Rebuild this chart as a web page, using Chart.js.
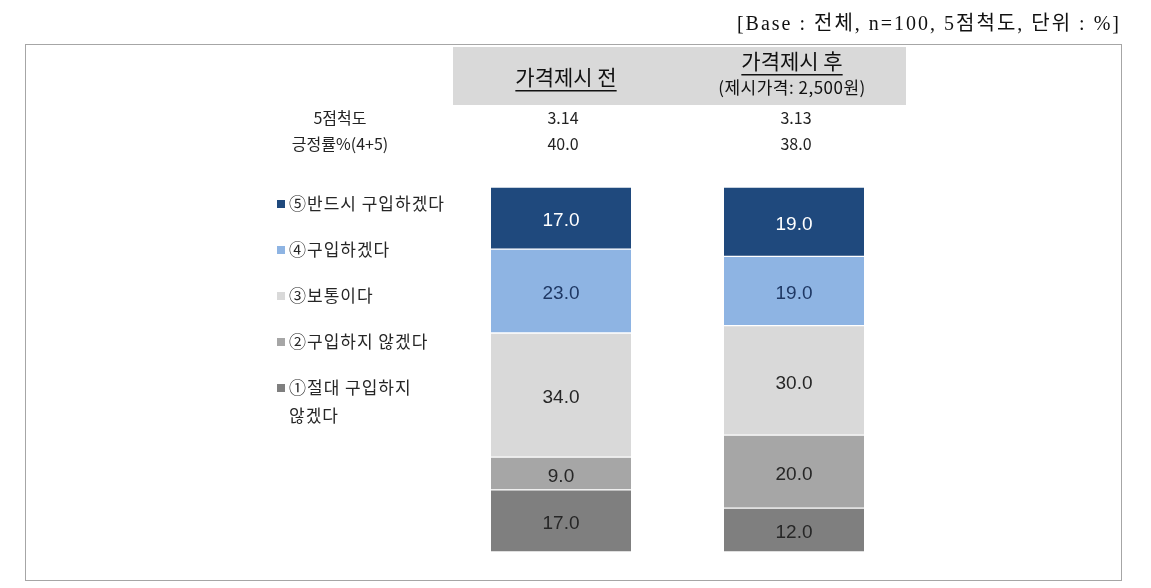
<!DOCTYPE html>
<html>
<head>
<meta charset="utf-8">
<script src="https://cdn.jsdelivr.net/npm/chart.js@4/dist/chart.umd.min.js"></script>
<style>
html,body{margin:0;padding:0;background:#fff;}
#wrap{width:1151px;height:588px;position:relative;}
</style>
</head>
<body>
<div id="wrap"><canvas id="c"></canvas></div>
<script>
const categories = ['가격제시 전', '가격제시 후'];
const categorySub = ['', '(제시가격: 2,500원)'];
const seriesLabels = ['①절대 구입하지 않겠다', '②구입하지 않겠다', '③보통이다', '④구입하겠다', '⑤반드시 구입하겠다'];
const s1 = [17.0, 12.0];
const s2 = [9.0, 20.0];
const s3 = [34.0, 30.0];
const s4 = [23.0, 19.0];
const s5 = [17.0, 19.0];
const scoreLabel = '5점척도';
const scores = ['3.14', '3.13'];
const positiveLabel = '긍정률%(4+5)';
const positive = ['40.0', '38.0'];
const baseNote = '[Base : 전체, n=100, 5점척도, 단위 : %]';

const colors = ['#7F7F7F', '#A6A6A6', '#D9D9D9', '#8EB4E3', '#1F497D'];
const labelColors = ['#262626', '#262626', '#262626', '#1F3864', '#FFFFFF'];
const seriesData = [s1, s2, s3, s4, s5];

const KR = '"Noto Sans CJK KR", "Noto Sans", sans-serif';

const datasets = seriesData.map((d, i) => ({
  label: seriesLabels[i],
  data: d,
  backgroundColor: colors[i],
  borderColor: '#FFFFFF',
  borderWidth: {top: 1, bottom: 1, left: 0, right: 0},
  borderSkipped: false,
  barThickness: 140
}));

const decor = {
  id: 'decor',
  beforeDraw(chart) {
    const ctx = chart.ctx;
    const xs = chart.scales.x;
    ctx.save();
    ctx.fillStyle = '#fff';
    ctx.fillRect(0, 0, chart.width, chart.height);
    // frame
    ctx.strokeStyle = '#A6A6A6';
    ctx.lineWidth = 1;
    ctx.strokeRect(25.5, 44.5, 1096, 536);
    // header box
    ctx.fillStyle = '#D9D9D9';
    ctx.fillRect(453, 47, 453, 58);
    // note
    ctx.fillStyle = '#111';
    ctx.font = '20px "Liberation Serif", "Noto Sans CJK KR", serif';
    ctx.letterSpacing = '2px';
    ctx.textAlign = 'right';
    ctx.textBaseline = 'middle';
    ctx.fillText(baseNote, 1121, 25);
    ctx.letterSpacing = '0px';
    // headers
    ctx.textAlign = 'center';
    categories.forEach((c, i) => {
      const hasSub = categorySub[i] !== '';
      const x = xs.getPixelForValue(i) + (hasSub ? -2 : 5);
      const y = hasSub ? 61 : 77;
      ctx.font = '21px ' + KR;
      ctx.fillStyle = '#111';
      ctx.fillText(c, x, y);
      const w = ctx.measureText(c).width;
      ctx.fillRect(x - w / 2, y + 13, w, 1.5);
      if (hasSub) {
        ctx.font = '17px ' + KR;
        ctx.letterSpacing = '0.5px';
        ctx.fillText(categorySub[i], x, 88);
        ctx.letterSpacing = '0px';
      }
    });
    // table rows
    ctx.font = '16px ' + KR;
    ctx.fillStyle = '#222';
    ctx.fillText(scoreLabel, 340, 118);
    ctx.fillText(positiveLabel, 340, 144);
    scores.forEach((s, i) => ctx.fillText(s, xs.getPixelForValue(i) + 2, 118));
    positive.forEach((s, i) => ctx.fillText(s, xs.getPixelForValue(i) + 2, 144));
    // legend
    const order = [4, 3, 2, 1, 0];
    ctx.textAlign = 'left';
    ctx.font = '17px ' + KR;
    ctx.letterSpacing = '1px';
    order.forEach((di, k) => {
      const y = 204 + k * 46;
      const ds = chart.data.datasets[di];
      ctx.fillStyle = ds.backgroundColor;
      ctx.fillRect(277, y - 4, 8, 8);
      ctx.fillStyle = '#262626';
      const label = ds.label;
      if (ctx.measureText(label).width > 165) {
        const sp = label.lastIndexOf(' ');
        ctx.fillText(label.slice(0, sp), 289, y);
        ctx.fillText(label.slice(sp + 1), 289, y + 28);
      } else {
        ctx.fillText(label, 289, y);
      }
    });
    ctx.letterSpacing = '0px';
    ctx.restore();
  },
  afterDatasetsDraw(chart) {
    const ctx = chart.ctx;
    ctx.save();
    ctx.textAlign = 'center';
    ctx.textBaseline = 'middle';
    ctx.font = '19px "Liberation Sans", Arial, sans-serif';
    chart.data.datasets.forEach((ds, di) => {
      const meta = chart.getDatasetMeta(di);
      meta.data.forEach((bar, j) => {
        const v = ds.data[j];
        ctx.fillStyle = labelColors[di];
        ctx.fillText(v.toFixed(1), bar.x, (bar.y + bar.base) / 2 + 3);
      });
    });
    ctx.restore();
  }
};

new Chart(document.getElementById('c'), {
  type: 'bar',
  data: { labels: categories, datasets },
  options: {
    responsive: true,
    maintainAspectRatio: false,
    animation: false,
    layout: { padding: { left: 444.5, right: 240.5, top: 187, bottom: 36 } },
    plugins: { legend: { display: false }, tooltip: { enabled: false } },
    scales: {
      x: { stacked: true, display: false },
      y: { stacked: true, display: false, min: 0, max: 100 }
    }
  },
  plugins: [decor]
});
</script>
</body>
</html>
